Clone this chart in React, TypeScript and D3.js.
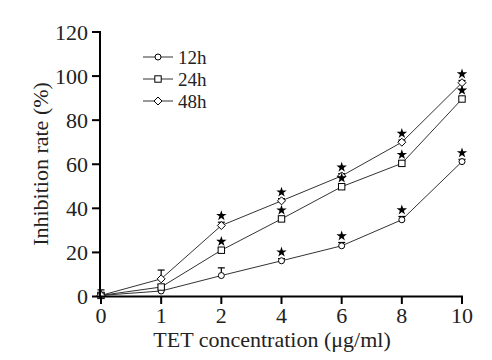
import React from "react";
import * as d3 from "d3";

const concentrations = ["0", "1", "2", "4", "6", "8", "10"];
const yTicks = [0, 20, 40, 60, 80, 100, 120];
const seriesNames = ["12h", "24h", "48h"];
const values12h = [0.5, 2.5, 9.5, 16.2, 23, 34.8, 61.2];
const values24h = [0.5, 4.3, 21, 35.2, 49.8, 60.4, 89.6];
const values48h = [0.5, 8, 32.2, 43.4, 54.7, 70, 97];
const errors12h = [2.5, 1, 3.5, 1, 1.5, 1.5, 1];
const errors24h = [1, 1, 1, 1, 1, 1, 1];
const errors48h = [1, 4, 1.5, 1, 1, 1, 1];
const significant12h = [false, false, false, true, true, true, true];
const significant24h = [false, false, true, true, true, true, true];
const significant48h = [false, false, true, true, true, true, true];

const W = 492;
const H = 360;
const font = "'Liberation Serif', 'Times New Roman', serif";

export default function App() {
  const x = d3.scalePoint<string>().domain(concentrations).range([101, 462]);
  const y = d3.scaleLinear().domain([0, 120]).range([296.5, 32]);
  const line = d3
    .line<number>()
    .x((_, i) => x(concentrations[i]) as number)
    .y((v) => y(v));

  const series = [
    { name: seriesNames[0], vals: values12h, errs: errors12h, sig: significant12h, shape: "circle" },
    { name: seriesNames[1], vals: values24h, errs: errors24h, sig: significant24h, shape: "square" },
    { name: seriesNames[2], vals: values48h, errs: errors48h, sig: significant48h, shape: "diamond" },
  ];

  const marker = (shape: string, cx: number, cy: number, key: string) => {
    if (shape === "circle")
      return <circle key={key} cx={cx} cy={cy} r={3} fill="#fff" stroke="#000" strokeWidth={1} />;
    if (shape === "square")
      return <rect key={key} x={cx - 3.2} y={cy - 3.2} width={6.4} height={6.4} fill="#fff" stroke="#000" strokeWidth={1} />;
    return (
      <path
        key={key}
        d={`M${cx},${cy - 4}L${cx + 4},${cy}L${cx},${cy + 4}L${cx - 4},${cy}Z`}
        fill="#fff"
        stroke="#000"
        strokeWidth={1}
      />
    );
  };

  const star = d3.symbol().type(d3.symbolStar).size(34);

  return (
    <svg width={W} height={H} style={{ display: "block", position: "absolute", left: 0, top: 0 }}>
      <rect width={W} height={H} fill="#fff" />
      {series.map((s) => (
        <path key={s.name + "l"} d={line(s.vals) || ""} fill="none" stroke="#333" strokeWidth={1} />
      ))}
      {series.map((s) =>
        s.vals.map((v, i) => {
          const cx = x(concentrations[i]) as number;
          const top = y(v + s.errs[i]);
          return (
            <g key={s.name + "e" + i}>
              <line x1={cx} x2={cx} y1={y(v)} y2={top} stroke="#000" strokeWidth={1.2} />
              <line x1={cx - 3.5} x2={cx + 3.5} y1={top} y2={top} stroke="#000" strokeWidth={1.2} />
            </g>
          );
        })
      )}
      {series.map((s) =>
        s.vals.map((v, i) => marker(s.shape, x(concentrations[i]) as number, y(v), s.name + "m" + i))
      )}
      {series.map((s) =>
        s.vals.map((v, i) =>
          s.sig[i] ? (
            <path
              key={s.name + "s" + i}
              d={star() || ""}
              transform={`translate(${x(concentrations[i])},${y(v + s.errs[i]) - 6.5})`}
              fill="#000"
            />
          ) : null
        )
      )}
      <line x1={100} x2={100} y1={31} y2={297.5} stroke="#000" strokeWidth={2} />
      <line x1={99} x2={463} y1={296.5} y2={296.5} stroke="#000" strokeWidth={2} />
      {yTicks.map((t) => (
        <g key={"yt" + t}>
          <line x1={92} x2={100} y1={y(t)} y2={y(t)} stroke="#000" strokeWidth={2} />
          <text x={88} y={y(t)} dy="0.35em" textAnchor="end" fontFamily={font} fontSize={22} fill="#222">
            {t}
          </text>
        </g>
      ))}
      {concentrations.map((c) => (
        <g key={"xt" + c}>
          <line x1={x(c)} x2={x(c)} y1={296.5} y2={304} stroke="#000" strokeWidth={2} />
          <text x={x(c)} y={323} textAnchor="middle" fontFamily={font} fontSize={22} fill="#222">
            {c}
          </text>
        </g>
      ))}
      <text x={272} y={347} textAnchor="middle" fontFamily={font} fontSize={22} fill="#222">
        TET concentration (μg/ml)
      </text>
      <text
        transform="translate(48,164) rotate(-90)"
        textAnchor="middle"
        fontFamily={font}
        fontSize={22}
        fill="#222"
      >
        Inhibition rate (%)
      </text>
      {series.map((s, i) => {
        const ly = 57 + i * 22;
        return (
          <g key={"lg" + s.name}>
            <line x1={143} x2={173} y1={ly} y2={ly} stroke="#333" strokeWidth={1} />
            {marker(s.shape, 158, ly, "lgm" + i)}
            <text x={178} y={ly} dy="0.35em" fontFamily={font} fontSize={19} fill="#222">
              {s.name}
            </text>
          </g>
        );
      })}
    </svg>
  );
}
